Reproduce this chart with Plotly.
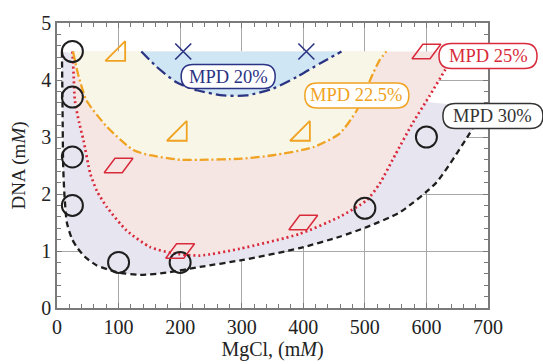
import plotly.graph_objects as go

# ---- data ----
# boundary curves (MgCl mM, DNA mM)
black_x = [8, 9, 10, 12, 16, 24, 32, 45, 64, 97, 135, 178, 232, 300, 394, 459, 503, 557, 616, 670, 692]
black_y = [4.5, 3.5, 2.5, 2.0, 1.5, 1.22, 1.07, 0.9, 0.75, 0.63, 0.58, 0.62, 0.72, 0.84, 1.05, 1.25, 1.42, 1.68, 2.2, 3.06, 3.45]

red_x = [25, 27, 29, 36, 43, 54, 65, 81, 113, 151, 188, 232, 297, 394, 459, 503, 524, 550, 578, 605, 630, 648]
red_y = [4.5, 4.1, 3.64, 3.25, 2.94, 2.36, 2.05, 1.77, 1.36, 1.07, 0.96, 0.92, 1.04, 1.30, 1.6, 1.89, 2.18, 2.7, 3.25, 3.72, 4.17, 4.5]

orange_x = [26, 30, 34, 48, 81, 124, 151, 200, 232, 300, 351, 416, 459, 487, 513, 524, 535]
orange_y = [4.5, 4.3, 4.11, 3.64, 3.18, 2.77, 2.68, 2.6, 2.6, 2.62, 2.68, 2.82, 3.06, 3.47, 4.11, 4.35, 4.5]

blue_x = [137, 162, 194, 227, 270, 308, 351, 389, 427, 462]
blue_y = [4.5, 4.23, 3.96, 3.82, 3.73, 3.73, 3.85, 4.05, 4.29, 4.5]

lav_top_x = [640, 598]
lav_top_y = [3.57, 3.62]

# measured points
mpd30_x = [25, 25, 25, 25, 100, 200, 500, 600]
mpd30_y = [4.5, 3.7, 2.65, 1.8, 0.8, 0.8, 1.75, 3.0]
mpd25_x = [100, 200, 400, 600]
mpd25_y = [2.5, 1.0, 1.5, 4.5]
mpd225_x = [100, 200, 400]
mpd225_y = [4.45, 3.05, 3.05]
mpd20_x = [205, 405]
mpd20_y = [4.5, 4.5]

labels = ["MPD 20%", "MPD 22.5%", "MPD 25%", "MPD 30%"]

# ---- style ----
C_BLACK = "#1e1e1e"
C_RED = "#d92a3c"
C_ORANGE = "#f0a323"
C_NAVY = "#2b3383"
F_LAV = "#e7e6f0"
F_PINK = "#f6e6e3"
F_CREAM = "#f8f6e7"
F_BLUE = "#cfe6f4"
FONT = "Liberation Serif"

fig = go.Figure()

def fill(xs, ys, color):
    fig.add_trace(go.Scatter(x=xs, y=ys, mode="lines", fill="toself", fillcolor=color,
                             line=dict(width=0, shape="spline", smoothing=0.6),
                             hoverinfo="skip", showlegend=False))

fill(black_x + lav_top_x, black_y + lav_top_y, F_LAV)
fill(red_x, red_y, F_PINK)
fill(orange_x, orange_y, F_CREAM)
fill(blue_x, blue_y, F_BLUE)

def line(xs, ys, color, dash, width):
    fig.add_trace(go.Scatter(x=xs, y=ys, mode="lines",
                             line=dict(color=color, dash=dash, width=width, shape="spline", smoothing=0.6),
                             hoverinfo="skip", showlegend=False))

line(black_x, black_y, C_BLACK, "6px,4px", 2.3)
line(red_x, red_y, C_RED, "2px,3px", 2.7)
line(orange_x, orange_y, C_ORANGE, "9px,3px,2px,3px", 2.3)
line(blue_x, blue_y, C_NAVY, "11px,4px,3px,4px", 2.3)

fig.add_trace(go.Scatter(x=mpd30_x, y=mpd30_y, mode="markers",
                         marker=dict(symbol="circle-open", size=21, color=C_BLACK, line=dict(width=2, color=C_BLACK)),
                         showlegend=False))
fig.add_trace(go.Scatter(x=mpd25_x, y=mpd25_y, mode="markers",
                         marker=dict(symbol="diamond-wide-open", size=23, angle=-26.57, color=C_RED,
                                     line=dict(width=1.5, color=C_RED)),
                         showlegend=False))
fig.add_trace(go.Scatter(x=mpd225_x, y=mpd225_y, mode="markers",
                         marker=dict(symbol="triangle-se-open", size=22, color=C_ORANGE,
                                     line=dict(width=1.8, color=C_ORANGE)),
                         showlegend=False))
fig.add_trace(go.Scatter(x=mpd20_x, y=mpd20_y, mode="markers",
                         marker=dict(symbol="x-thin-open", size=16, color=C_NAVY,
                                     line=dict(width=1.6, color=C_NAVY)),
                         showlegend=False))

# label boxes (rounded)
def rrect(w, h):
    r = h / 2
    a, b = w / 2, h / 2
    return (f"M{-a + r},{-b} L{a - r},{-b} Q{a},{-b} {a},{-b + r} L{a},{b - r} Q{a},{b} {a - r},{b} "
            f"L{-a + r},{b} Q{-a},{b} {-a},{b - r} L{-a},{-b + r} Q{-a},{-b} {-a + r},{-b} Z")

box_pos = [(278, 4.06, 94, 24), (487, 3.73, 104, 25), (700, 4.42, 98, 25), (708, 3.37, 100, 25)]
box_col = [C_NAVY, C_ORANGE, C_RED, "#333333"]
shapes, annots = [], []
for (bx, by, bw, bh), col, txt in zip(box_pos, box_col, labels):
    px, py = bx / 700, by / 5
    shapes.append(dict(type="path", xref="paper", yref="paper", xsizemode="pixel", ysizemode="pixel",
                       xanchor=px, yanchor=py, path=rrect(bw, bh), fillcolor="white",
                       line=dict(color=col, width=1.5), layer="above"))
    annots.append(dict(x=px, y=py, xref="paper", yref="paper", text=txt, showarrow=False,
                       xanchor="center", yanchor="middle", font=dict(family=FONT, size=18.5, color=col)))

axis_common = dict(showgrid=True, gridcolor="#a8a8a8", gridwidth=1, zeroline=False,
                   showline=True, linecolor="#7a7a7a", linewidth=1.5, mirror="allticks",
                   ticks="inside", ticklen=5, tickcolor="#7a7a7a", tickwidth=1, automargin=False,
                   tickfont=dict(family=FONT, size=20, color="#222"))

fig.update_layout(
    width=543, height=364,
    margin=dict(l=57, r=55, t=23, b=56),
    paper_bgcolor="white", plot_bgcolor="white",
    shapes=shapes, annotations=annots,
    xaxis=dict(range=[0, 700], dtick=100, tick0=0,
               minor=dict(dtick=20, ticks="inside", ticklen=4, tickcolor="#7a7a7a", showgrid=False),
               title=dict(text="MgCl, (m<i>M</i>)", font=dict(family=FONT, size=20, color="#222"), standoff=2),
               **axis_common),
    yaxis=dict(range=[0, 5], dtick=1, tick0=0,
               minor=dict(dtick=0.2, ticks="inside", ticklen=4, tickcolor="#7a7a7a", showgrid=False),
               title=dict(text="DNA (m<i>M</i>)", font=dict(family=FONT, size=19, color="#222"), standoff=11),
               **axis_common),
)

fig.write_html("out.html", config={"displayModeBar": False},
               post_script="document.body.style.margin='0';")
